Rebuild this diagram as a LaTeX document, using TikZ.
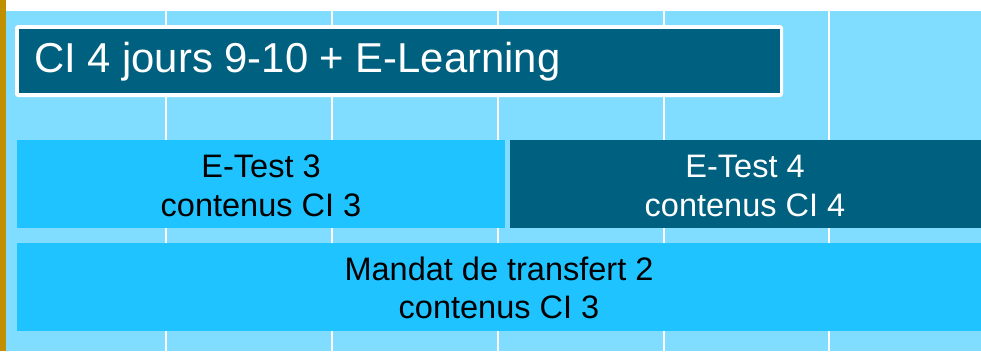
\documentclass[tikz,border=0pt]{standalone}
\usepackage{fontspec}
\setmainfont{Liberation Sans}
\definecolor{bgblue}{HTML}{80DDFF}
\definecolor{cyanbox}{HTML}{1FC3FF}
\definecolor{darkbox}{HTML}{006080}
\definecolor{goldbar}{HTML}{C09000}
\tikzset{
  gridline/.style={draw=white, line width=2.5pt},
  boxtext/.style={font=\fontsize{32.5}{38.5}\selectfont, align=center, text=black},
  lightbox/.style={fill=cyanbox, draw=none},
  darkrect/.style={fill=darkbox, draw=none},
}
\begin{document}
\begin{tikzpicture}[x=1pt, y=-1pt]
\useasboundingbox (0,0) rectangle (981,351);
% background
\fill[white] (0,0) rectangle (981,351);
\fill[bgblue] (5,11) rectangle (981,351);
\fill[goldbar] (0,0) rectangle (5.5,351);
% vertical grid lines
\foreach \gx in {166,332,498,664,829} {
  \draw[gridline] (\gx,11) -- (\gx,351);
}
% title box
\fill[white, rounded corners=3pt] (15,25) rectangle (783,97);
\fill[darkbox] (19,29) rectangle (780,93);
\node[anchor=west, text=white, font=\fontsize{41.8}{48}\selectfont, inner sep=0pt] (title) at (34,62) {CI 4 jours 9-10 + E-Learning};
% E-Test boxes
\fill[lightbox] (17,140) rectangle (505,228);
\fill[darkrect] (510,140) rectangle (981,228);
\fill[lightbox] (17,243) rectangle (981,331);
\node[boxtext] (etest3) at (261,186) {E-Test 3\\contenus CI 3};
\node[boxtext, text=white] (etest4) at (745,186) {E-Test 4\\contenus CI 4};
\node[boxtext] (mandat) at (499,288) {Mandat de transfert 2\\contenus CI 3};
\end{tikzpicture}
\end{document}
